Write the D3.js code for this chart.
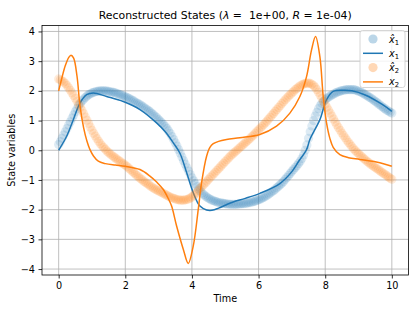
<!DOCTYPE html>
<html><head><meta charset="utf-8">
<script src="https://cdn.jsdelivr.net/npm/d3@7"></script>
<style>body{margin:0;background:#fff}svg{display:block}text{font-family:"DejaVu Sans",sans-serif;fill:#000}</style>
</head><body><svg id="c" width="418" height="314"></svg>
<script>
// ---- data ----
const tDots = d3.range(0, 201).map(i => i / 20);
const x1Hat = [0.19,0.29,0.40,0.51,0.62,0.73,0.85,0.96,1.08,1.19,
1.30,1.40,1.50,1.58,1.66,1.72,1.78,1.83,1.87,1.90,
1.93,1.95,1.97,1.98,1.99,2.00,2.00,2.00,2.00,1.99,
1.98,1.97,1.96,1.95,1.93,1.91,1.89,1.87,1.85,1.83,
1.80,1.78,1.75,1.72,1.69,1.66,1.62,1.59,1.56,1.53,
1.49,1.45,1.41,1.37,1.33,1.29,1.24,1.19,1.14,1.09,
1.03,0.98,0.92,0.86,0.80,0.73,0.65,0.56,0.46,0.36,
0.25,0.14,0.02,-0.10,-0.23,-0.35,-0.47,-0.59,-0.70,-0.82,
-0.93,-1.03,-1.13,-1.22,-1.30,-1.37,-1.44,-1.49,-1.54,-1.58,
-1.62,-1.65,-1.68,-1.70,-1.72,-1.74,-1.76,-1.77,-1.78,-1.79,
-1.80,-1.81,-1.81,-1.82,-1.82,-1.82,-1.82,-1.82,-1.81,-1.81,
-1.80,-1.80,-1.79,-1.78,-1.77,-1.76,-1.74,-1.73,-1.71,-1.69,
-1.67,-1.65,-1.62,-1.59,-1.56,-1.52,-1.48,-1.44,-1.40,-1.36,
-1.31,-1.26,-1.21,-1.16,-1.11,-1.05,-0.98,-0.92,-0.85,-0.78,
-0.71,-0.65,-0.58,-0.52,-0.45,-0.37,-0.28,-0.16,0.00,0.18,
0.40,0.62,0.82,1.00,1.15,1.28,1.40,1.50,1.58,1.64,
1.70,1.75,1.79,1.83,1.86,1.89,1.92,1.95,1.97,1.99,
2.01,2.02,2.03,2.04,2.04,2.04,2.04,2.04,2.03,2.01,
1.99,1.97,1.94,1.91,1.87,1.84,1.80,1.77,1.73,1.69,
1.65,1.61,1.56,1.52,1.47,1.43,1.39,1.35,1.32,1.28,1.25];
const x2Hat = [2.40,2.37,2.34,2.30,2.25,2.18,2.10,2.02,1.93,1.84,
1.75,1.65,1.55,1.45,1.34,1.23,1.12,1.01,0.90,0.78,
0.67,0.57,0.48,0.39,0.30,0.22,0.15,0.09,0.03,-0.03,
-0.08,-0.13,-0.18,-0.22,-0.26,-0.30,-0.34,-0.38,-0.43,-0.46,
-0.50,-0.55,-0.60,-0.65,-0.70,-0.75,-0.80,-0.85,-0.90,-0.95,
-0.99,-1.04,-1.08,-1.12,-1.16,-1.20,-1.24,-1.28,-1.31,-1.34,
-1.37,-1.40,-1.43,-1.46,-1.49,-1.52,-1.55,-1.58,-1.60,-1.62,
-1.64,-1.66,-1.67,-1.68,-1.68,-1.68,-1.67,-1.66,-1.64,-1.61,
-1.57,-1.52,-1.47,-1.41,-1.35,-1.28,-1.22,-1.16,-1.10,-1.04,
-0.98,-0.92,-0.86,-0.80,-0.74,-0.68,-0.62,-0.56,-0.50,-0.44,
-0.38,-0.32,-0.26,-0.20,-0.15,-0.10,-0.05,0.00,0.05,0.10,
0.15,0.20,0.25,0.30,0.35,0.40,0.46,0.51,0.57,0.63,
0.69,0.74,0.80,0.86,0.92,0.98,1.05,1.11,1.18,1.24,
1.31,1.37,1.44,1.50,1.57,1.63,1.70,1.76,1.82,1.87,
1.93,1.98,2.04,2.08,2.13,2.17,2.20,2.23,2.25,2.26,
2.26,2.25,2.22,2.18,2.12,2.04,1.95,1.85,1.75,1.65,
1.55,1.45,1.35,1.25,1.15,1.05,0.95,0.85,0.76,0.67,
0.58,0.50,0.42,0.34,0.26,0.19,0.12,0.05,-0.01,-0.07,
-0.12,-0.17,-0.22,-0.27,-0.32,-0.37,-0.41,-0.46,-0.50,-0.54,
-0.58,-0.62,-0.66,-0.70,-0.74,-0.78,-0.82,-0.86,-0.90,-0.94,-0.98];
const tX1 = [0,0.24,0.44,0.64,0.84,1.04,1.44,1.94,2.44,2.94,3.2,3.44,3.64,3.84,4.04,4.24,4.44,4.6,4.8,5.0,5.24,5.6,6.04,6.64,7.0,7.2,7.44,7.54,7.84,8.04,8.24,8.54,8.8,9.2,9.7,10];
const x1 = [0,0.47,1.03,1.59,1.87,1.93,1.81,1.64,1.37,0.92,0.62,0.25,-0.1,-0.75,-1.43,-1.88,-2.01,-2.02,-1.95,-1.85,-1.74,-1.62,-1.45,-1.12,-0.72,-0.38,0.02,0.36,1.03,1.70,1.98,2.02,2.0,1.86,1.55,1.31];
const tX2 = [0,0.1,0.2,0.3,0.37,0.45,0.55,0.64,0.75,0.85,0.94,1.05,1.19,1.4,1.7,2.0,2.44,2.74,2.95,3.14,3.3,3.39,3.54,3.74,3.89,4.04,4.19,4.29,4.44,4.54,4.64,4.8,5.04,5.44,6.04,6.54,6.94,7.24,7.44,7.59,7.71,7.84,7.94,8.04,8.14,8.24,8.44,8.7,9.04,9.64,10];
const x2 = [2.0,2.45,2.85,3.12,3.2,3.1,2.5,1.5,0.75,0.3,0.02,-0.2,-0.37,-0.45,-0.5,-0.54,-0.65,-0.87,-1.08,-1.32,-1.65,-1.88,-2.55,-3.33,-3.81,-3.22,-1.99,-1.09,-0.2,0.1,0.22,0.3,0.36,0.42,0.53,0.81,1.25,1.81,2.48,3.38,3.83,3.15,1.81,0.92,0.4,0.1,-0.15,-0.25,-0.31,-0.42,-0.54];
const xTicks = [0,2,4,6,8,10];
const yTicks = [-4,-3,-2,-1,0,1,2,3,4];
const blue = "#1f77b4", orange = "#ff7f0e";

// ---- layout ----
const L = 42, R = 408.5, T = 25.5, B = 275;
const svg = d3.select("#c");
const x = d3.scaleLinear().domain([-0.5, 10.5]).range([L, R]);
const y = d3.scaleLinear().domain([-4.2, 4.2]).range([B, T]);

svg.append("defs").append("clipPath").attr("id","clip")
  .append("rect").attr("x",L).attr("y",T).attr("width",R-L).attr("height",B-T);

// grid
const g = svg.append("g");
g.selectAll(".gx").data(xTicks).join("line")
  .attr("x1",d=>x(d)).attr("x2",d=>x(d)).attr("y1",T).attr("y2",B)
  .attr("stroke","#b0b0b0").attr("stroke-width",0.8);
g.selectAll(".gy").data(yTicks).join("line")
  .attr("y1",d=>y(d)).attr("y2",d=>y(d)).attr("x1",L).attr("x2",R)
  .attr("stroke","#b0b0b0").attr("stroke-width",0.8);

const plot = svg.append("g").attr("clip-path","url(#clip)");
const line = d3.line().x(d=>x(d[0])).y(d=>y(d[1])).curve(d3.curveCatmullRom.alpha(0.5));

function dots(vals, color){
  plot.append("g").selectAll("circle").data(tDots.map((t,i)=>[t,vals[i]])).join("circle")
    .attr("cx",d=>x(d[0])).attr("cy",d=>y(d[1])).attr("r",4.6)
    .attr("fill",color).attr("fill-opacity",0.15);
}
function path(ts, vals, color){
  plot.append("path").datum(ts.map((t,i)=>[t,vals[i]])).attr("d",line)
    .attr("fill","none").attr("stroke",color).attr("stroke-width",1.5);
}
dots(x1Hat, blue);
path(tX1, x1, blue);
dots(x2Hat, orange);
path(tX2, x2, orange);

// axes
const ax = svg.append("g").attr("transform",`translate(0,${B})`)
  .call(d3.axisBottom(x).tickValues(xTicks).tickSize(3.5).tickPadding(3.5).tickFormat(d3.format("d")));
const ay = svg.append("g").attr("transform",`translate(${L},0)`)
  .call(d3.axisLeft(y).tickValues(yTicks).tickSize(3.5).tickPadding(3.5).tickFormat(d=>String(d).replace("-","\u2212")));
[ax,ay].forEach(a=>{
  a.select(".domain").remove();
  a.selectAll("line").attr("stroke","#000").attr("stroke-width",0.8);
  a.selectAll("text").style("font-family","DejaVu Sans").style("font-size","9.7px").attr("fill","#000");
});
// frame
svg.append("rect").attr("x",L).attr("y",T).attr("width",R-L).attr("height",B-T)
  .attr("fill","none").attr("stroke","#000").attr("stroke-width",0.8);

// title & labels
const title = svg.append("text").attr("x",(L+R)/2).attr("y",19).attr("text-anchor","middle").style("font-size","10.9px");
title.append("tspan").text("Reconstructed States (");
title.append("tspan").style("font-style","italic").text("λ");
title.append("tspan").text(" =\u00a0 1e+00, ");
title.append("tspan").style("font-style","italic").text("R");
title.append("tspan").text(" = 1e-04)");
svg.append("text").attr("x",(L+R)/2).attr("y",302).attr("text-anchor","middle").style("font-size","9.7px").text("Time");
svg.append("text").attr("transform",`translate(15,${(T+B)/2}) rotate(-90)`).attr("text-anchor","middle").style("font-size","9.7px").text("State variables");

// legend
const lg = svg.append("g");
lg.append("rect").attr("x",360).attr("y",30.5).attr("width",45).attr("height",57).attr("rx",2.5)
  .attr("fill","#fff").attr("fill-opacity",0.8).attr("stroke","#cccccc").attr("stroke-width",0.8);
const items = [{k:"dot",c:blue,s:"1",hat:true},{k:"line",c:blue,s:"1",hat:false},{k:"dot",c:orange,s:"2",hat:true},{k:"line",c:orange,s:"2",hat:false}];
items.forEach((it,i)=>{
  const cy = 39 + i*14.3;
  if(it.k==="dot") lg.append("circle").attr("cx",373).attr("cy",cy).attr("r",4.6).attr("fill",it.c).attr("fill-opacity",0.3);
  else lg.append("line").attr("x1",363).attr("x2",383).attr("y1",cy).attr("y2",cy).attr("stroke",it.c).attr("stroke-width",1.5);
  const t = lg.append("text").attr("x",389).attr("y",cy+3.5).style("font-size","9.7px");
  t.append("tspan").style("font-style","italic").text(it.hat ? "x\u0302" : "x");
  t.append("tspan").attr("dy",2).style("font-size","6.8px").text(it.s);
});
</script></body></html>
